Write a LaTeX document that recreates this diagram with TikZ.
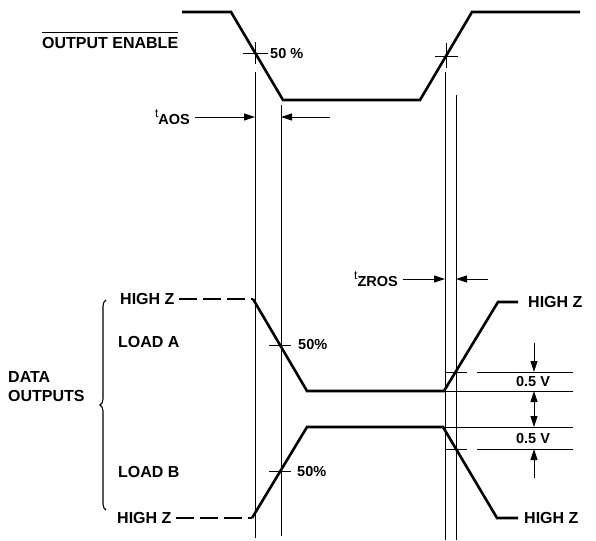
\documentclass[tikz,border=0pt]{standalone}
\usepackage{fontspec}
\setmainfont{Liberation Sans}
\usetikzlibrary{arrows.meta,decorations.pathreplacing}

\tikzset{
  wave/.style={line width=2.6pt, line join=miter},
  hiz/.style={line width=2.6pt, dash pattern=on 18pt off 6pt},
  guide/.style={line width=0.7pt},
  dimarrow/.style={line width=0.8pt, -{Triangle[length=11pt,width=7pt]}},
  lbl/.style={font=\fontsize{16}{18}\selectfont\bfseries, inner sep=0pt},
  small/.style={font=\fontsize{14.5}{16}\selectfont\bfseries, inner sep=0pt},
}

\begin{document}
\begin{tikzpicture}[x=1pt, y=-1pt]
  \useasboundingbox (0,0) rectangle (596,540);

  % OUTPUT ENABLE:
  % 50% crossing of fall  = (255, 53)
  % 50% crossing of rise  = (446, 56)
  \coordinate (e0) at (182,12);
  \coordinate (e1) at (231,12);
  \coordinate (e2) at (283,100);
  \coordinate (e3) at (420,100);
  \coordinate (e4) at (472,12);
  \coordinate (e5) at (580,12);
  \draw[wave] (e0) -- (e1) -- (e2) -- (e3) -- (e4) -- (e5);

  \node[lbl, anchor=west] (oe) at (42,43) {OUTPUT ENABLE};
  \draw[guide] ([yshift=5pt]oe.north west) -- ([yshift=5pt]oe.north east);

  \draw[guide] (243,53) -- (268,53);
  \draw[guide] (255,42) -- (255,64);
  \node[small, anchor=west] (p50) at (270,54) {50 \%};

  \draw[guide] (435,56) -- (458,56);
  \draw[guide] (446,43) -- (446,68);

  % guide lines
  \draw[guide] (255,72) -- (255,538);
  \draw[guide] (281,105) -- (281,536);
  \draw[guide] (445,72) -- (445,540);
  \draw[guide] (456,95) -- (456,540);

  % tAOS:
  \node[small, anchor=east] (taos) at (190,117)
    {\raisebox{0.5em}{\fontsize{12}{12}\selectfont\mdseries t}AOS};
  \coordinate (taosl) at (255,117);
  \coordinate (taosr) at (281,117);
  \coordinate (taosf) at (330,117);
  \draw[dimarrow] ([xshift=5pt]taos.east) -- (taosl);
  \draw[dimarrow] (taosf) -- (taosr);

  % tZROS:
  \node[small, anchor=east] (tzros) at (398,279)
    {\raisebox{0.5em}{\fontsize{12}{12}\selectfont\mdseries t}ZROS};
  \coordinate (tzl) at (445,279);
  \coordinate (tzr) at (456,279);
  \coordinate (tzf) at (488,279);
  \draw[dimarrow] ([xshift=5pt]tzros.east) -- (tzl);
  \draw[dimarrow] (tzf) -- (tzr);

  % DATA OUTPUTS:
  \node[lbl, anchor=west, align=left] (data) at (8,387) {DATA\\[1pt]OUTPUTS};
  \draw[line width=1.1pt, decorate, decoration={brace, amplitude=6pt}]
    (106,510) -- (106,300);

  % LOAD A:
  % 50% crossing (281, 345), 0.5 V crossing (456, 372)
  \node[lbl, anchor=west] (hza) at (120,299) {HIGH Z};
  \node[lbl, anchor=west] (loada) at (118,342) {LOAD A};
  \coordinate (a0) at (253,299);
  \coordinate (a1) at (307,391);
  \coordinate (a2) at (444,391);
  \coordinate (a3) at (498,302);
  \coordinate (a4) at (518,302);
  \draw[hiz] ([xshift=4pt]hza.east) -- (a0);
  \draw[wave] (a0) -- (a1) -- (a2) -- (a3) -- (a4);
  \node[lbl, anchor=west] (hzar) at (528,302) {HIGH Z};
  \draw[guide] (269,345) -- (291,345);
  \node[small, anchor=west] (p50a) at (298,345) {50\%};

  % LOAD B:
  % 50% crossing (281, 471), 0.5 V crossing (456, 449)
  \node[lbl, anchor=west] (loadb) at (118,472) {LOAD B};
  \node[lbl, anchor=west] (hzb) at (117,518) {HIGH Z};
  \coordinate (b0) at (252,518);
  \coordinate (b1) at (307,427);
  \coordinate (b2) at (443,427);
  \coordinate (b3) at (497,518);
  \coordinate (b4) at (518,518);
  \draw[hiz] ([xshift=4pt]hzb.east) -- (b0);
  \draw[wave] (b0) -- (b1) -- (b2) -- (b3) -- (b4);
  \node[lbl, anchor=west] (hzbr) at (524,518) {HIGH Z};
  \draw[guide] (269,471) -- (291,471);
  \node[small, anchor=west] (p50b) at (297,472) {50\%};

  % 0.5 V levels
  \draw[guide] (446,372) -- (467,372);
  \draw[guide] (477,372) -- (573,372);
  \draw[guide] (446,391) -- (573,391);
  \draw[guide] (446,427) -- (573,427);
  \draw[guide] (446,449) -- (467,449);
  \draw[guide] (477,449) -- (573,449);

  \node[small, inner sep=0pt] (va) at (533,382) {0.5 V};
  \node[small, inner sep=0pt] (vb) at (533,439) {0.5 V};

  \coordinate (v0) at (534,343);
  \coordinate (v1) at (534,372);
  \coordinate (v2) at (534,391);
  \coordinate (vm) at (534,409);
  \coordinate (v3) at (534,427);
  \coordinate (v4) at (534,449);
  \coordinate (v5) at (534,478);
  \draw[dimarrow] (v0) -- (v1);
  \draw[dimarrow] (vm) -- (v2);
  \draw[dimarrow] (vm) -- (v3);
  \draw[dimarrow] (v5) -- (v4);
\end{tikzpicture}
\end{document}
